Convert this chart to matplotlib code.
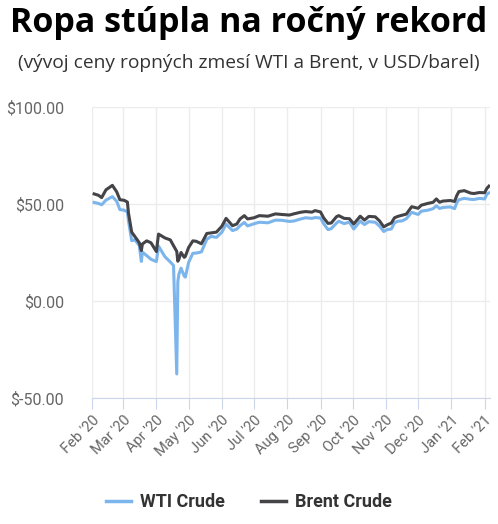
import matplotlib
matplotlib.use("Agg")
import matplotlib.pyplot as plt
import pandas as pd

# data (USD / barrel)
dates = ["2020-02-03", "2020-02-07", "2020-02-10", "2020-02-14", "2020-02-20", "2020-02-24",
         "2020-02-27", "2020-03-02", "2020-03-05", "2020-03-06", "2020-03-09", "2020-03-12",
         "2020-03-16", "2020-03-18", "2020-03-19", "2020-03-23", "2020-03-27", "2020-04-01",
         "2020-04-03", "2020-04-09", "2020-04-14", "2020-04-17", "2020-04-20", "2020-04-21",
         "2020-04-22", "2020-04-24", "2020-04-27", "2020-04-28", "2020-05-01", "2020-05-05",
         "2020-05-08", "2020-05-13", "2020-05-18", "2020-05-22", "2020-05-27", "2020-06-01",
         "2020-06-05", "2020-06-11", "2020-06-15", "2020-06-18", "2020-06-22", "2020-06-25",
         "2020-07-01", "2020-07-06", "2020-07-14", "2020-07-21", "2020-07-27", "2020-08-03",
         "2020-08-07", "2020-08-13", "2020-08-18", "2020-08-24", "2020-08-27", "2020-09-01",
         "2020-09-04", "2020-09-08", "2020-09-11", "2020-09-16", "2020-09-18", "2020-09-23",
         "2020-09-28", "2020-10-02", "2020-10-08", "2020-10-12", "2020-10-16", "2020-10-22",
         "2020-10-26", "2020-10-30", "2020-11-02", "2020-11-06", "2020-11-09", "2020-11-12",
         "2020-11-16", "2020-11-20", "2020-11-25", "2020-12-01", "2020-12-04", "2020-12-10",
         "2020-12-15", "2020-12-18", "2020-12-21", "2020-12-24", "2020-12-31", "2021-01-04",
         "2021-01-06", "2021-01-08", "2021-01-13", "2021-01-19", "2021-01-22", "2021-01-27",
         "2021-02-01", "2021-02-03", "2021-02-05"]
wti = [50.8, 50.3, 49.6, 52.0, 53.8, 51.4,
       47.1, 46.8, 45.9, 41.3, 31.1, 31.5,
       28.7, 20.4, 25.2, 23.4, 21.5, 20.3,
       28.3, 22.8, 20.1, 18.3, -37.6, 10.0,
       13.8, 16.9, 12.8, 12.3, 19.8, 24.6,
       24.7, 25.3, 31.8, 33.3, 32.8, 35.4,
       39.6, 36.3, 37.1, 38.8, 40.5, 38.7,
       39.8, 40.6, 40.3, 41.7, 41.6, 41.0,
       41.2, 42.2, 42.9, 42.6, 43.0, 42.8,
       39.8, 36.8, 37.3, 40.2, 41.1, 39.9,
       40.6, 37.1, 41.2, 39.4, 40.9, 40.6,
       38.6, 35.8, 36.8, 37.1, 40.3, 41.1,
       41.3, 42.4, 45.7, 44.6, 46.3, 46.8,
       47.6, 49.1, 47.7, 48.2, 48.5, 47.6,
       50.6, 52.2, 52.9, 52.4, 52.3, 52.9,
       52.6, 55.0, 55.7]
brent = [55.2, 54.5, 53.3, 57.3, 59.6, 56.3,
         52.2, 51.9, 51.0, 45.3, 35.5, 33.2,
         30.1, 26.0, 29.4, 31.0, 30.0, 25.5,
         34.5, 32.5, 31.5, 28.5, 25.6, 20.5,
         21.5, 25.0, 22.5, 23.0, 27.5, 31.0,
         30.8, 29.5, 34.8, 35.1, 35.5, 38.5,
         42.6, 38.8, 39.7, 42.3, 44.0, 42.3,
         42.9, 44.0, 43.7, 44.9, 44.6, 44.3,
         44.9, 45.7, 46.1, 45.8, 46.6, 45.9,
         42.8, 40.0, 40.2, 43.5, 44.0, 42.6,
         42.4, 39.7, 43.7, 41.7, 43.6, 43.4,
         41.3, 38.2, 39.2, 40.2, 42.9, 43.6,
         44.2, 44.8, 48.6, 47.8, 49.4, 50.3,
         50.9, 52.6, 50.9, 51.5, 51.8, 51.3,
         54.3, 56.4, 56.9, 55.6, 55.4, 55.9,
         55.8, 58.0, 59.2]
series_names = ["WTI Crude", "Brent Crude"]
month_ticks = pd.date_range("2020-02-01", "2021-02-01", freq="MS")
y_ticks = [-50, 0, 50, 100]

d = pd.to_datetime(dates)

fig = plt.figure(figsize=(4.98, 5.24), dpi=100)
ax = fig.add_axes([92/498, 1-398/524, (490-92)/498, (398-107)/524])

ax.plot(d, wti, color="#7cb5ec", lw=2.2, label=series_names[0], solid_joinstyle="round")
ax.plot(d, brent, color="#434348", lw=2.2, label=series_names[1], solid_joinstyle="round")

ax.set_xlim(pd.Timestamp("2020-02-01"), pd.Timestamp("2021-02-06"))
ax.set_ylim(-50, 100)
ax.set_yticks(y_ticks)
ax.set_yticklabels(["$%.2f" % v for v in y_ticks], fontfamily="Roboto", fontsize=11.5, color="#666666")
ax.set_xticks(month_ticks)
ax.set_xticklabels([m.strftime("%b '%y") for m in month_ticks], rotation=45, ha="right",
                   rotation_mode="anchor", fontfamily="Roboto", fontsize=10.5, color="#666666")

ax.grid(True, color="#ececec", lw=1)
ax.set_axisbelow(True)
for s in ["top", "right", "left"]:
    ax.spines[s].set_visible(False)
ax.spines["bottom"].set_color("#ccd6eb")
ax.tick_params(axis="y", length=0, pad=20)
ax.tick_params(axis="x", length=8, color="#ccd6eb", pad=3)

fig.text(0.5, 1-23/524, "Ropa stúpla na ročný rekord", ha="center", va="center",
         fontfamily="Open Sans", fontweight="bold", fontsize=24.5, color="#000000")
fig.text(0.5, 1-63/524, "(vývoj ceny ropných zmesí WTI a Brent, v USD/barel)", ha="center", va="center",
         fontfamily="Open Sans", fontsize=13.8, color="#333333")

leg = fig.legend(loc="center", bbox_to_anchor=(0.5, 1-502/524), ncol=2, frameon=False,
                 prop={"family": "Roboto", "weight": "bold", "size": 13}, handlelength=1.4,
                 columnspacing=2.0, handletextpad=0.5)
for t in leg.get_texts():
    t.set_color("#333333")
for l in leg.get_lines():
    l.set_linewidth(2.5)

fig.savefig("out.png", dpi=100)
